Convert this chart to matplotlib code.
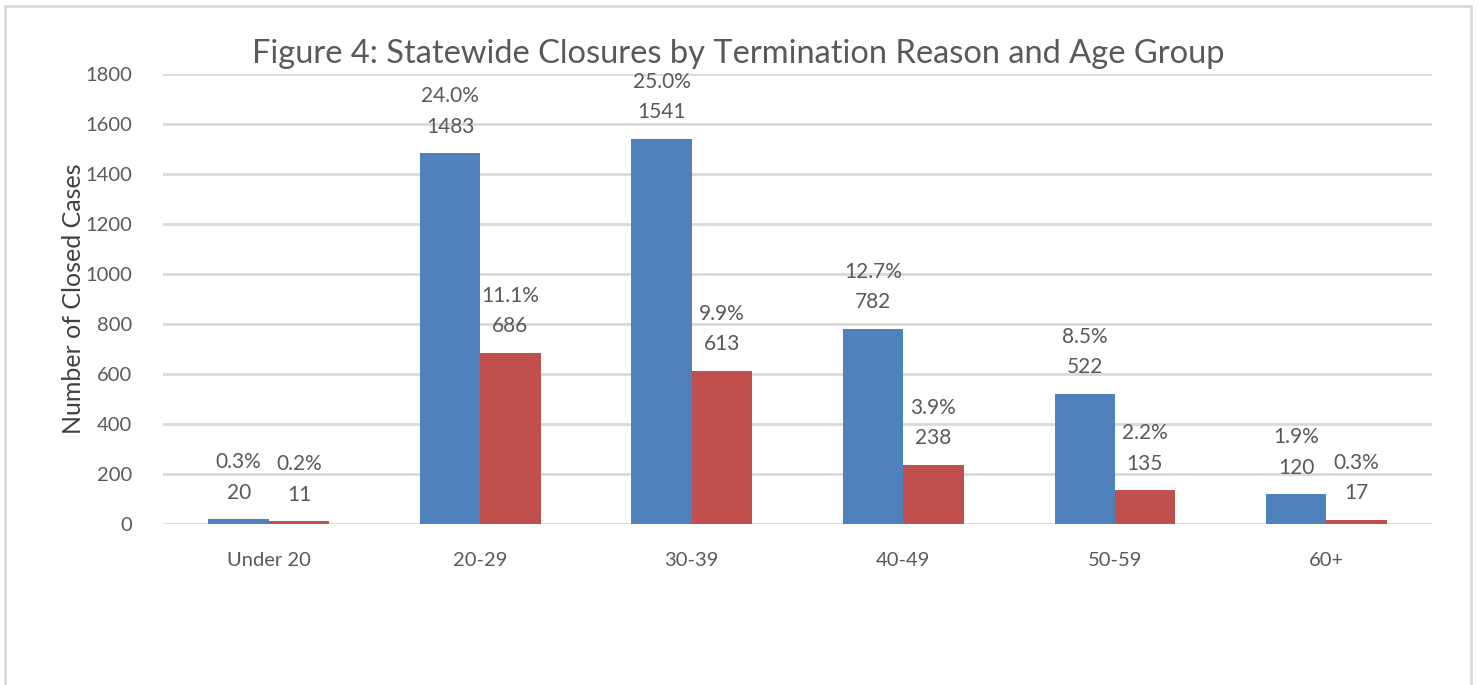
import numpy as np
import matplotlib.pyplot as plt
from matplotlib.patches import Rectangle

# Figure 4 data: closures by age group, two termination reasons
age_groups = ['Under 20', '20-29', '30-39', '40-49', '50-59', '60+']
reason_a = [20, 1483, 1541, 782, 522, 120]
reason_b = [11, 686, 613, 238, 135, 17]
pct_a = ['0.3%', '24.0%', '25.0%', '12.7%', '8.5%', '1.9%']
pct_b = ['0.2%', '11.1%', '9.9%', '3.9%', '2.2%', '0.3%']

plt.rcParams['font.family'] = ['Lato', 'DejaVu Sans']
text_gray = '#595959'

fig = plt.figure(figsize=(14.78, 6.85), dpi=100)
ax = fig.add_axes([0.1103, 0.235, 0.8586, 0.657])

# light frame around the chart area (bottom edge is cropped in the original)
fig.patches.append(Rectangle((5 / 1478, -0.05), 1466 / 1478, 1.05 - 6 / 685,
                             transform=fig.transFigure, fill=False,
                             edgecolor='#d9d9d9', linewidth=2))

x = np.arange(len(age_groups))
w = 0.285
bars_a = ax.bar(x - w / 2, reason_a, w, color='#4f81bd', zorder=3)
bars_b = ax.bar(x + w / 2, reason_b, w, color='#c0504d', zorder=3)

# two-line data labels: value just above the bar, share above that
for bars, vals, pcts in [(bars_a, reason_a, pct_a), (bars_b, reason_b, pct_b)]:
    for b, v, p in zip(bars, vals, pcts):
        cx = b.get_x() + b.get_width() / 2
        ax.annotate(str(v), (cx, v), xytext=(0, 19), textcoords='offset points',
                    ha='center', va='center', fontsize=15, color=text_gray)
        ax.annotate(p, (cx, v), xytext=(0, 41), textcoords='offset points',
                    ha='center', va='center', fontsize=15, color=text_gray)

ax.set_xlim(-0.5, 5.5)
ax.set_ylim(0, 1800)
ax.set_yticks(np.arange(0, 1801, 200))
ax.set_xticks(x)
ax.set_xticklabels(age_groups)
ax.yaxis.grid(True, color='#d9d9d9', linewidth=2, zorder=0)
ax.set_axisbelow(True)
for s in ax.spines.values():
    s.set_visible(False)
ax.tick_params(length=0, labelsize=14.5, labelcolor=text_gray)
ax.tick_params(axis='x', pad=20)
ax.tick_params(axis='y', pad=22)

ax.set_ylabel('Number of Closed Cases', fontsize=18, color='#404040')
ax.yaxis.set_label_coords(-0.0615, 0.5)
fig.text(0.4993, 1 - 54 / 685, 'Figure 4: Statewide Closures by Termination Reason and Age Group',
         ha='center', va='center', fontsize=23.5, color=text_gray)

fig.savefig('out.png', dpi=100)
